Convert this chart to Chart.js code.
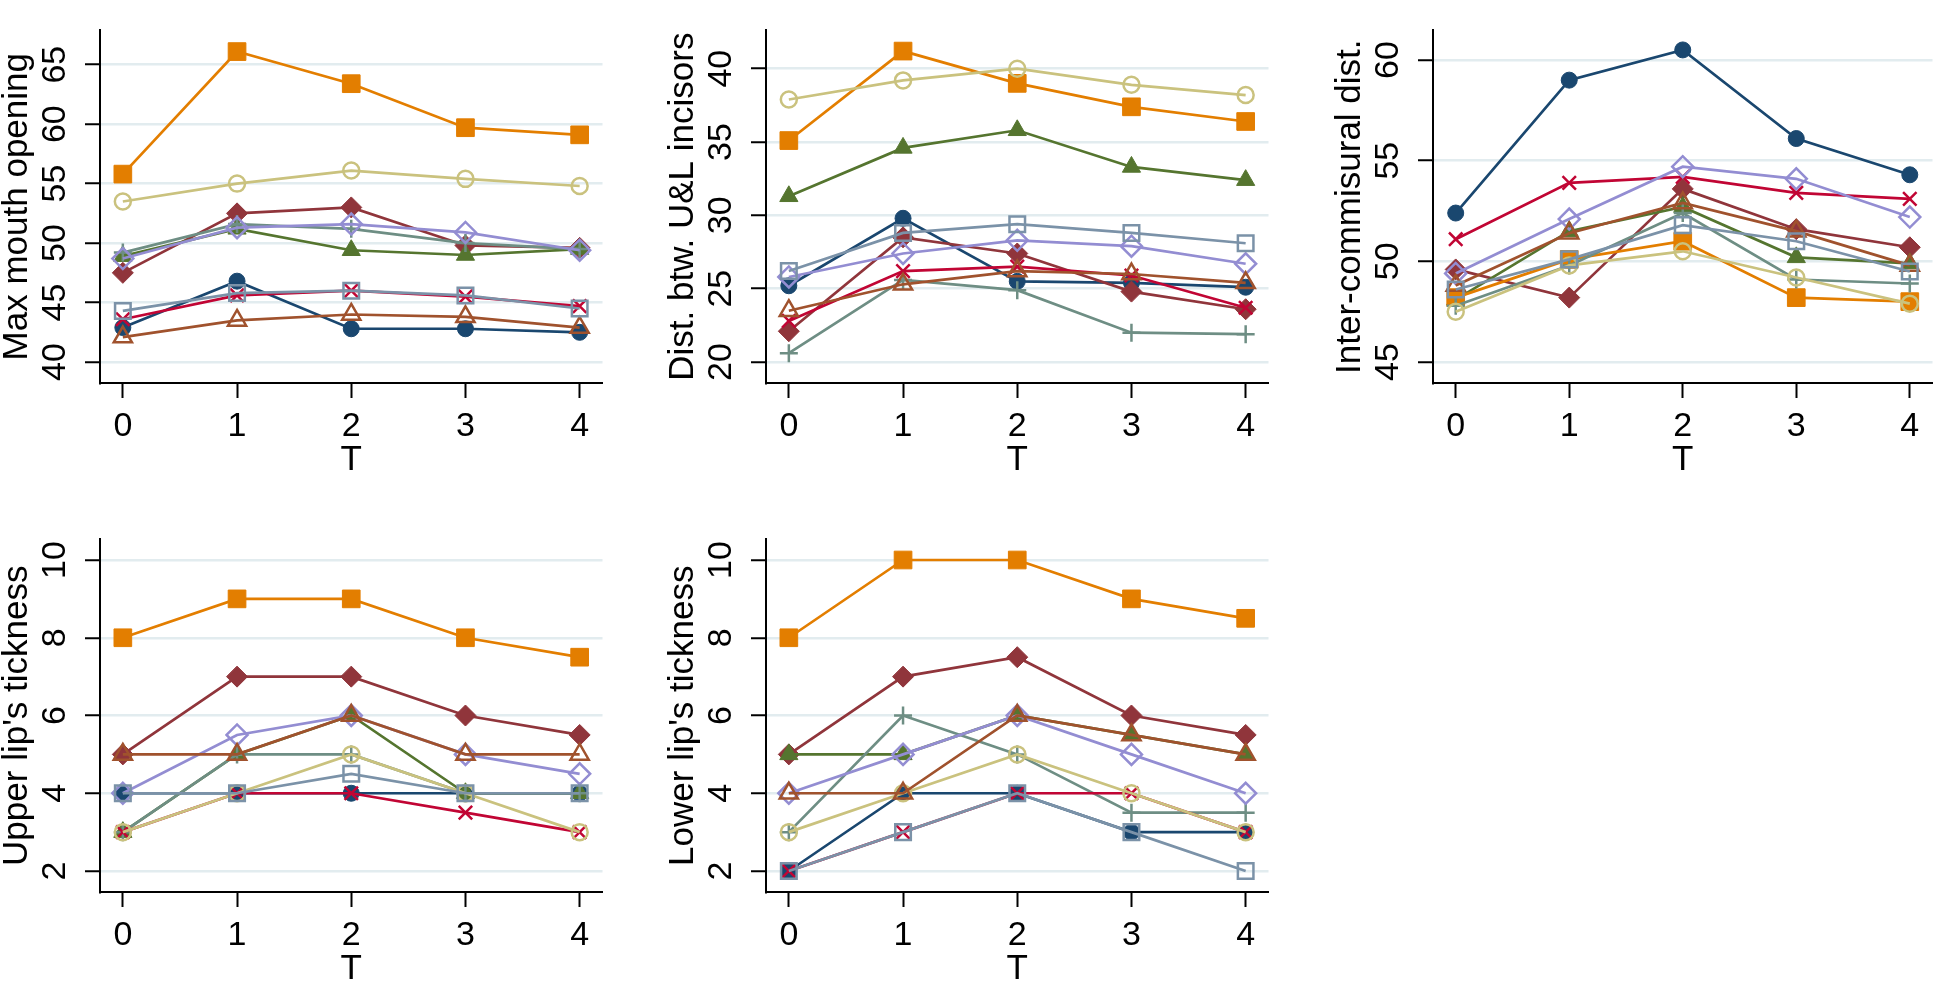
<!DOCTYPE html>
<html>
<head>
<meta charset="utf-8">
<title>Mouth measurements over time</title>
<script src="https://cdn.jsdelivr.net/npm/chart.js@4.4.1/dist/chart.umd.min.js"></script>
<style>
    html, body { margin: 0; padding: 0; background: #fff; }
    body { width: 1946px; height: 984px; position: relative; overflow: hidden; }
    canvas { position: absolute; }
</style>
</head>
<body>
<canvas id="chartMouth"></canvas>
<canvas id="chartIncisors"></canvas>
<canvas id="chartCommisural"></canvas>
<canvas id="chartUpperLip"></canvas>
<canvas id="chartLowerLip"></canvas>
<script>
// Time points (x axis) and tick labels
const timePoints = [0, 1, 2, 3, 4];
const xTickValues = [0, 1, 2, 3, 4];

// One row per subject, in Stata series order:
// navy, maroon, green, orange, teal, cranberry, lavender, khaki, sienna, blue-gray
const maxMouthOpening = [
    [42.9, 46.8, 42.8, 42.8, 42.5],
    [47.5, 52.5, 53.0, 49.8, 49.6],
    [48.9, 51.2, 49.4, 49.0, 49.5],
    [55.8, 66.1, 63.4, 59.7, 59.1],
    [49.2, 51.6, 51.2, 50.0, 49.5],
    [43.6, 45.6, 46.0, 45.5, 44.7],
    [48.7, 51.3, 51.6, 50.9, 49.4],
    [53.5, 55.0, 56.1, 55.4, 54.8],
    [42.1, 43.5, 44.0, 43.8, 42.9],
    [44.3, 45.8, 46.0, 45.6, 44.5]
];
const incisorsDist = [
    [25.2, 29.8, 25.5, 25.4, 25.1],
    [22.1, 28.5, 27.4, 24.8, 23.6],
    [31.3, 34.6, 35.8, 33.3, 32.4],
    [35.1, 41.2, 39.0, 37.4, 36.4],
    [20.6, 25.6, 24.9, 22.0, 21.9],
    [22.8, 26.2, 26.5, 25.9, 23.7],
    [25.8, 27.4, 28.3, 27.9, 26.7],
    [37.9, 39.2, 40.0, 38.9, 38.2],
    [23.5, 25.3, 26.2, 26.0, 25.4],
    [26.2, 28.8, 29.4, 28.8, 28.1]
];
const interCommisural = [
    [52.4, 59.0, 60.5, 56.1, 54.3],
    [49.6, 48.2, 53.6, 51.6, 50.7],
    [48.1, 51.5, 52.7, 50.2, 49.9],
    [48.2, 50.1, 51.0, 48.2, 48.0],
    [47.8, 49.8, 52.4, 49.1, 48.9],
    [51.1, 53.9, 54.2, 53.4, 53.1],
    [49.4, 52.1, 54.7, 54.1, 52.2],
    [47.5, 49.8, 50.5, 49.2, 47.9],
    [48.8, 51.4, 52.9, 51.5, 49.8],
    [48.6, 50.1, 51.8, 51.0, 49.5]
];
const upperLip = [
    [4, 4, 4, 4, 4],
    [5, 7, 7, 6, 5.5],
    [3, 5, 6, 4, 4],
    [8, 9, 9, 8, 7.5],
    [3, 5, 5, 4, 4],
    [3, 4, 4, 3.5, 3],
    [4, 5.5, 6, 5, 4.5],
    [3, 4, 5, 4, 3],
    [5, 5, 6, 5, 5],
    [4, 4, 4.5, 4, 4]
];
const lowerLip = [
    [2, 4, 4, 3, 3],
    [5, 7, 7.5, 6, 5.5],
    [5, 5, 6, 5.5, 5],
    [8, 10, 10, 9, 8.5],
    [3, 6, 5, 3.5, 3.5],
    [2, 3, 4, 4, 3],
    [4, 5, 6, 5, 4],
    [3, 4, 5, 4, 3],
    [4, 4, 6, 5.5, 5],
    [2, 3, 4, 3, 2]
];

// y tick labels per panel
const mouthTicks = [40, 45, 50, 55, 60, 65];
const incisorsTicks = [20, 25, 30, 35, 40];
const commisuralTicks = [45, 50, 55, 60];
const lipTicks = [2, 4, 6, 8, 10];

// Stata s2color look
const seriesColors = ['#1a476f', '#90353b', '#55752f', '#e37e00', '#6e8e84',
                      '#c10534', '#938dd2', '#cac27e', '#a0522d', '#7b92a8'];
const seriesSymbols = ['circle', 'rectRot', 'triangle', 'rect', 'cross',
                       'crossRot', 'rectRot', 'circle', 'triangle', 'rect'];
const seriesHollow = [false, false, false, false, true, true, true, true, true, true];
const seriesRadius = [8, 10.5, 10.5, 12.5, 9, 9.5, 10.5, 8, 10.5, 11];

const FONT = "'Liberation Sans', Arial, Helvetica, sans-serif";
const Y_AXIS_W = 100;   // room for y title + tick labels
const X_AXIS_H = 100;   // room for x tick labels + title
const PLOT_H = 380;

function buildDatasets(rows) {
    return rows.map((row, i) => ({
        data: row.map((v, j) => ({ x: timePoints[j], y: v })),
        borderColor: seriesColors[i],
        borderWidth: 2.7,
        pointStyle: seriesSymbols[i],
        pointRadius: seriesRadius[i],
        pointBackgroundColor: seriesHollow[i] ? 'rgba(0,0,0,0)' : seriesColors[i],
        pointBorderColor: seriesColors[i],
        pointBorderWidth: seriesHollow[i] ? 2.5 : 1,
        tension: 0,
        order: rows.length - i   // later subjects drawn on top, as in Stata
    }));
}

function makePanel(canvasId, left, top, plotW, title, rows, yMin, yMax, yTicks) {
    const canvas = document.getElementById(canvasId);
    const w = Y_AXIS_W + plotW;
    const h = 3 + PLOT_H + X_AXIS_H;
    canvas.width = w;
    canvas.height = h;
    canvas.style.left = left + 'px';
    canvas.style.top = top + 'px';
    canvas.style.width = w + 'px';
    canvas.style.height = h + 'px';

    new Chart(canvas.getContext('2d'), {
        type: 'line',
        data: { datasets: buildDatasets(rows) },
        options: {
            responsive: false,
            animation: false,
            layout: { padding: { top: 3, right: 0, bottom: 0, left: 0 } },
            plugins: {
                legend: { display: false },
                tooltip: { enabled: false }
            },
            scales: {
                x: {
                    type: 'linear',
                    min: -0.2,
                    max: 4.2,
                    afterBuildTicks: axis => { axis.ticks = xTickValues.map(v => ({ value: v })); },
                    afterFit: axis => { axis.height = X_AXIS_H; },
                    grid: { drawOnChartArea: false, tickLength: 15, tickColor: '#000', tickWidth: 2 },
                    border: { display: true, color: '#000', width: 2 },
                    ticks: {
                        color: '#000',
                        font: { family: FONT, size: 34 },
                        padding: 8,
                        maxRotation: 0,
                        autoSkip: false
                    },
                    title: {
                        display: true,
                        text: 'T',
                        color: '#000',
                        font: { family: FONT, size: 35, lineHeight: 1 },
                        padding: { top: 0, bottom: 5.5 }
                    }
                },
                y: {
                    type: 'linear',
                    min: yMin,
                    max: yMax,
                    afterBuildTicks: axis => { axis.ticks = yTicks.map(v => ({ value: v })); },
                    afterFit: axis => { axis.width = Y_AXIS_W; },
                    grid: { color: '#e2ecef', lineWidth: 2.5, tickLength: 15, tickColor: '#000', tickWidth: 2 },
                    border: { display: true, color: '#000', width: 2 },
                    ticks: {
                        color: '#000',
                        font: { family: FONT, size: 34 },
                        minRotation: 90,
                        maxRotation: 90,
                        crossAlign: 'center',
                        padding: 10,
                        autoSkip: false
                    },
                    title: {
                        display: true,
                        text: title,
                        color: '#000',
                        font: { family: FONT, size: 35, lineHeight: 1 },
                        padding: { top: 0, bottom: 0 }
                    }
                }
            }
        }
    });
}

document.addEventListener('DOMContentLoaded', function() {
    if (typeof Chart === 'undefined') {
        console.error('Chart.js is not loaded!');
        return;
    }
    makePanel('chartMouth', 0, 0, 516, 'Max mouth opening', maxMouthOpening, 38.24, 67.88, mouthTicks);
    makePanel('chartIncisors', 666, 0, 516, 'Dist. btw. U&L incisors', incisorsDist, 18.57, 42.61, incisorsTicks);
    makePanel('chartCommisural', 1333, 0, 513, 'Inter-commisural dist.', interCommisural, 43.96, 61.47, commisuralTicks);
    makePanel('chartUpperLip', 0, 509, 516, "Upper lip's tickness", upperLip, 1.46, 10.53, lipTicks);
    makePanel('chartLowerLip', 666, 509, 516, "Lower lip's tickness", lowerLip, 1.46, 10.53, lipTicks);
    console.log('All panels drawn');
});
</script>
</body>
</html>
